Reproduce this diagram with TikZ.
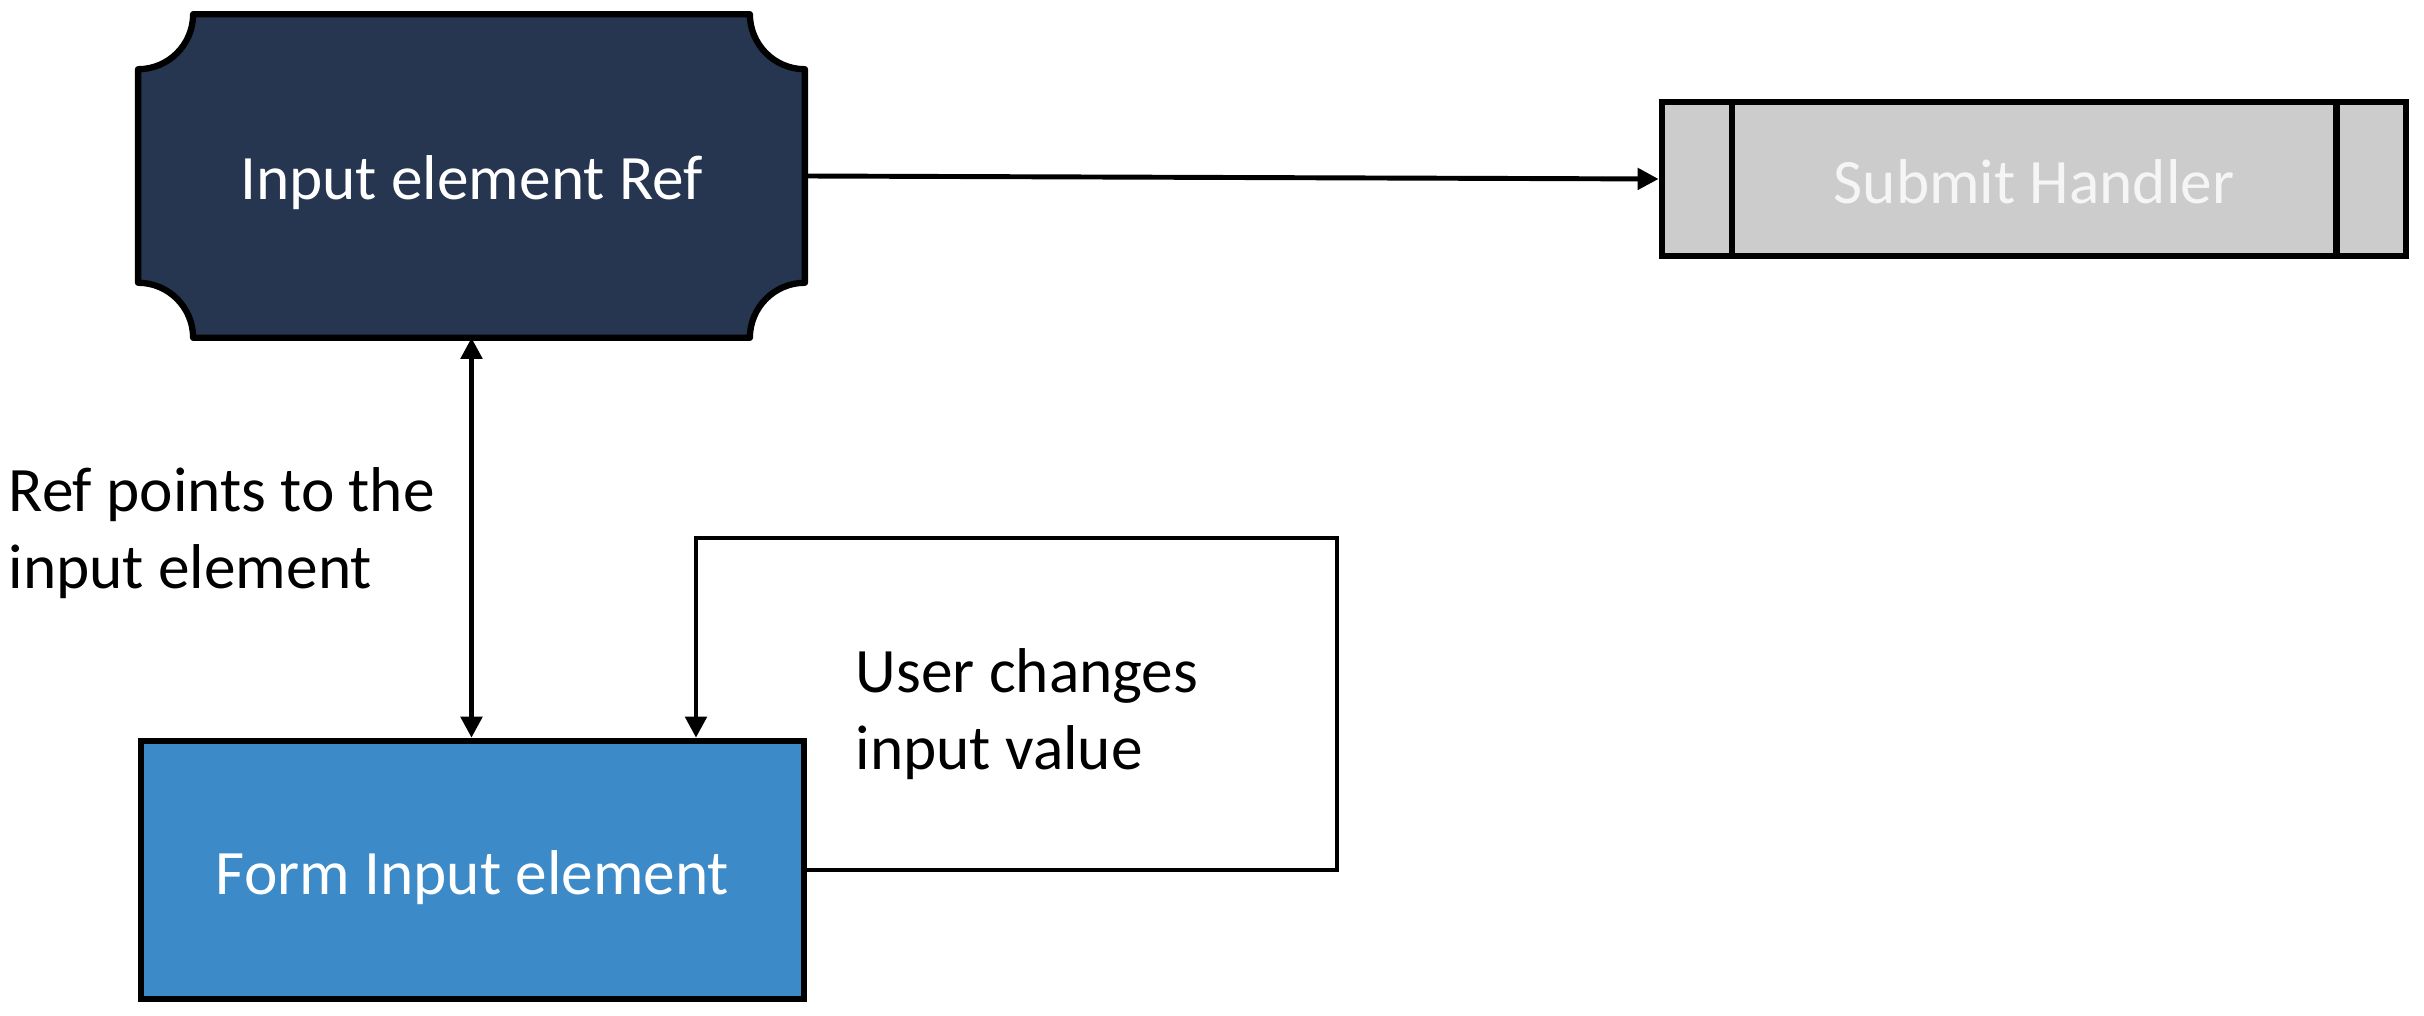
\documentclass[tikz,border=0pt]{standalone}
\usepackage{fontspec}
\setmainfont{Carlito}
\usetikzlibrary{arrows.meta,calc}
\definecolor{navy}{RGB}{38,53,80}
\definecolor{formblue}{RGB}{60,138,200}
\definecolor{subgray}{RGB}{204,204,204}
\definecolor{subtext}{RGB}{245,245,245}
\tikzset{
  box/.style={rectangle, inner sep=0pt, font=\fontsize{18pt}{21pt}\selectfont},
  border/.style={line width=1.8pt},
  arr/.style={line width=1.4pt, -{Triangle[length=6pt,width=6pt]}},
  darr/.style={line width=1.4pt, {Triangle[length=6pt,width=6pt]}-{Triangle[length=6pt,width=6pt]}},
  lbl/.style={inner sep=0pt, align=left, anchor=west, font=\fontsize{18pt}{22pt}\selectfont},
  boxtext/.style={font=\fontsize{18pt}{21pt}\selectfont, inner sep=0pt}
}
\begin{document}
\begin{tikzpicture}[x=0.01cm,y=-0.01cm]
\useasboundingbox (0,0) rectangle (2424,1016);
% Input element Ref (concave-corner box)
\node[box, minimum width=6.65cm, minimum height=3.22cm] (ref) at (471.5,176) {};
\def\r{0.55cm}
\filldraw[border, fill=navy, line join=round]
  ($(ref.north west)+(\r,0)$) -- ($(ref.north east)+(-\r,0)$)
  arc[start angle=180, end angle=270, radius=\r]
  -- ($(ref.south east)+(0,\r)$)
  arc[start angle=90, end angle=180, radius=\r]
  -- ($(ref.south west)+(\r,0)$)
  arc[start angle=0, end angle=90, radius=\r]
  -- ($(ref.north west)+(0,-\r)$)
  arc[start angle=270, end angle=360, radius=\r] -- cycle;
\node[boxtext, text=white] (reft) at ($(ref.center)+(0,7)$) {Input element Ref};
% Submit Handler
\node[box, draw, border, fill=subgray, minimum width=7.44cm, minimum height=1.54cm] (sub) at (2034,179) {};
\node[boxtext, text=subtext] (subt) at ($(sub.center)+(0,3)$) {Submit Handler};
\draw[border] ($(sub.north west)+(0.73cm,0)$) -- ($(sub.south west)+(0.73cm,0)$);
\draw[border] ($(sub.north east)+(-0.73cm,0)$) -- ($(sub.south east)+(-0.73cm,0)$);
% Form Input element
\node[box, draw, border, fill=formblue, minimum width=6.63cm, minimum height=2.58cm] (form) at (472.5,870) {};
\node[boxtext, text=white] (formt) at ($(form.center)+(0,8)$) {Form Input element};
% connectors
\draw[arr] (ref.east) -- (sub.west);
\draw[darr] (ref.south) -- (ref.south |- form.north);
\coordinate (c1) at (1337,538);
\coordinate (c2) at (696,538);
\draw[arr, line join=miter] (form.east) -| (c1) -- (c2) -- (c2 |- form.north);
% labels
\node[lbl] (t1) at (8,533) {Ref points to the\\input element};
\node[lbl] (t2) at (855,714) {User changes\\input value};
\end{tikzpicture}
\end{document}
